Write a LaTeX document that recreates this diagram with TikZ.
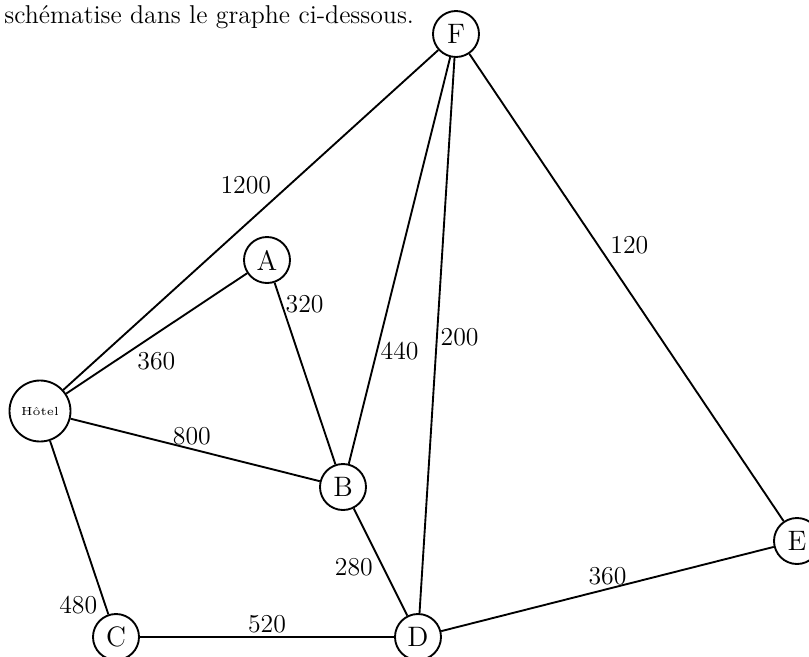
\documentclass[tikz,border=0pt]{standalone}
\usetikzlibrary{positioning}
\tikzset{
	sommet/.style={circle, draw=black, thick, minimum size=0.69cm, inner sep=0pt, font=\large},
	hotelsommet/.style={sommet, minimum size=0.915cm, font=\tiny},
	arete/.style={thick},
	poids/.style={inner sep=1.2pt},
}
\begin{document}
\begin{tikzpicture}[x=0.015cm, y=-0.015cm, font=\fontsize{11}{13}\selectfont]
	\useasboundingbox (0,0) rectangle (809,656);
	% phrase du sujet
	\node[anchor=base west, inner sep=0pt] (intro) at (4,23) {sch\'ematise dans le graphe ci-dessous.};
	% sommets
	\node[hotelsommet] (H) at (40,411) {H\^otel};
	\node[sommet] (A) at (267,260) {A};
	\node[sommet] (B) at (343,487) {B};
	\node[sommet] (C) at (116,637) {C};
	\node[sommet] (D) at (418,637) {D};
	\node[sommet] (E) at (797,541) {E};
	\node[sommet] (F) at (456,34) {F};
	% aretes et poids
	\draw[arete] (H) -- node[poids, pos=0.564, anchor=south east] {1200} (F);
	\draw[arete] (H) -- node[poids, pos=0.373, anchor=north west] {360} (A);
	\draw[arete] (A) -- node[poids, pos=0.121, anchor=west] {320} (B);
	\draw[arete] (B) -- node[poids, pos=0.278, anchor=west] {440} (F);
	\draw[arete] (D) -- node[poids, pos=0.497, anchor=west] {200} (F);
	\draw[arete] (F) -- node[poids, pos=0.437, anchor=south west] {120} (E);
	\draw[arete] (H) -- node[poids, pos=0.487, anchor=south] {800} (B);
	\draw[arete] (B) -- node[poids, pos=0.427, anchor=north east] {280} (D);
	\draw[arete] (H) -- node[poids, pos=0.873, anchor=north east] {480} (C);
	\draw[arete] (C) -- node[poids, pos=0.5, anchor=south] {520} (D);
	\draw[arete] (D) -- node[poids, pos=0.5, anchor=south] {360} (E);
\end{tikzpicture}
\end{document}
